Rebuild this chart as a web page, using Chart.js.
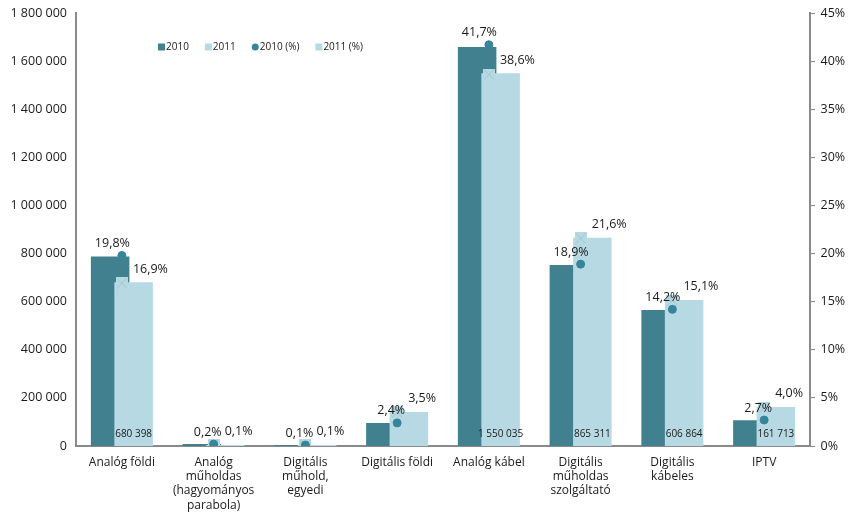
<!DOCTYPE html>
<html>
<head>
<meta charset="utf-8">
<script src="https://cdn.jsdelivr.net/npm/chart.js@4.4.1/dist/chart.umd.min.js"></script>
<style>
  body { margin: 0; background: #fff; }
  #wrap { width: 854px; height: 518px; position: relative; }
</style>
</head>
<body>
<div id="wrap"><canvas id="tvChart"></canvas></div>
<script>
// categories (x axis), multi-line labels
const categories = [
  ["Analóg földi"],
  ["Analóg", "műholdas", "(hagyományos", "parabola)"],
  ["Digitális", "műhold,", "egyedi"],
  ["Digitális földi"],
  ["Analóg kábel"],
  ["Digitális", "műholdas", "szolgáltató"],
  ["Digitális", "kábeles"],
  ["IPTV"]
];

// households (left axis)
const households2010 = [788000, 8000, 4000, 96000, 1659000, 752000, 565000, 107000];
const households2011 = [680398, 4000, 4000, 141000, 1550035, 865311, 606864, 161713];

// share in % (right axis)
const share2010 = [19.8, 0.2, 0.1, 2.4, 41.7, 18.9, 14.2, 2.7];
const share2011 = [16.9, 0.1, 0.1, 3.5, 38.6, 21.6, 15.1, 4.0];

// which 2011 values get a number written in the bar
const showValue2011 = [true, false, false, false, true, true, true, true];

const legendLabels = ["2010", "2011", "2010 (%)", "2011 (%)"];

const DARK = "#41818f";
const LIGHT = "#b7d9e3";
const DOT = "#36859a";
const AXIS = "#8a8a8a";
const FONT = "'Open Sans', 'Noto Sans', sans-serif";

const fmtNum = (v) => String(Math.round(v)).replace(/\B(?=(\d{3})+(?!\d))/g, " ");
const fmtPct = (v) => v.toFixed(1).replace(".", ",") + "%";

// square marker with an x across it, for the 2011 (%) series
function makeCrossSquare(size) {
  const c = document.createElement("canvas");
  c.width = size;
  c.height = size;
  const g = c.getContext("2d");
  g.fillStyle = LIGHT;
  g.fillRect(0, 0, size, size);
  g.strokeStyle = "#9fc8d4";
  g.lineWidth = 1;
  g.beginPath();
  g.moveTo(1, 1); g.lineTo(size - 1, size - 1);
  g.moveTo(size - 1, 1); g.lineTo(1, size - 1);
  g.stroke();
  return c;
}
const crossSquare = makeCrossSquare(12);

const labelPlugin = {
  id: "labels",
  // 2010 bars sit left (lower order) but must be painted under the 2011 bars
  beforeDatasetDraw(chart, args) {
    if (args.index === 0) return false;
    if (args.index === 1) chart.getDatasetMeta(0).controller.draw();
  },
  afterDatasetsDraw(chart) {
    const ctx = chart.ctx;
    const m2010 = chart.getDatasetMeta(2);
    const m2011 = chart.getDatasetMeta(3);
    const bars2011 = chart.getDatasetMeta(1);
    ctx.save();
    ctx.fillStyle = "#1a1a1a";
    ctx.font = "12.5px " + FONT;
    ctx.textBaseline = "middle";
    share2010.forEach((v, i) => {
      const p = m2010.data[i];
      ctx.textAlign = "right";
      ctx.fillText(fmtPct(v), p.x + 8, p.y - 12);
    });
    share2011.forEach((v, i) => {
      const p = m2011.data[i];
      ctx.textAlign = "left";
      ctx.fillText(fmtPct(v), p.x + 11, p.y - 14);
    });
    ctx.font = "10px " + FONT;
    ctx.textAlign = "center";
    households2011.forEach((v, i) => {
      if (!showValue2011[i]) return;
      const b = bars2011.data[i];
      ctx.fillText(fmtNum(v), b.x, chart.chartArea.bottom - 12);
    });
    ctx.restore();
  },
  afterDraw(chart) {
    // legend inside the plot, top left
    const ctx = chart.ctx;
    ctx.save();
    ctx.font = "10px " + FONT;
    ctx.textBaseline = "middle";
    ctx.textAlign = "left";
    const y = 47;
    let x = 158;
    legendLabels.forEach((t, i) => {
      if (i === 2) {
        ctx.fillStyle = DOT;
        ctx.beginPath();
        ctx.arc(x + 3.5, y, 3.5, 0, Math.PI * 2);
        ctx.fill();
      } else {
        ctx.fillStyle = i === 0 ? DARK : LIGHT;
        ctx.fillRect(x, y - 3.5, 7, 7);
      }
      ctx.fillStyle = "#1a1a1a";
      ctx.fillText(t, x + 8, y);
      x += 8 + ctx.measureText(t).width + 16;
    });
    ctx.restore();
  }
};

new Chart(document.getElementById("tvChart"), {
  type: "bar",
  data: {
    labels: categories,
    datasets: [
      {
        label: "2010",
        data: households2010,
        backgroundColor: DARK,
        yAxisID: "y",
        categoryPercentage: 0.512,
        barPercentage: 1.64,
        order: 2
      },
      {
        label: "2011",
        data: households2011,
        backgroundColor: LIGHT,
        yAxisID: "y",
        categoryPercentage: 0.512,
        barPercentage: 1.64,
        order: 3
      },
      {
        type: "line",
        label: "2010 (%)",
        data: share2010,
        yAxisID: "y1",
        showLine: false,
        pointStyle: "circle",
        pointRadius: 4,
        pointBackgroundColor: DOT,
        pointBorderColor: DOT,
        order: 0
      },
      {
        type: "line",
        label: "2011 (%)",
        data: share2011,
        yAxisID: "y1",
        showLine: false,
        pointStyle: crossSquare,
        pointRadius: 6,
        order: 1
      }
    ]
  },
  options: {
    responsive: true,
    maintainAspectRatio: false,
    animation: false,
    layout: { padding: { top: 0, left: 0, right: 0, bottom: 0 } },
    plugins: {
      legend: { display: false },
      tooltip: { enabled: false }
    },
    scales: {
      x: {
        grid: { display: false, drawTicks: false },
        border: { color: AXIS, width: 2 },
        ticks: {
          color: "#1a1a1a",
          font: { family: FONT, size: 12 },
          padding: 9,
          maxRotation: 0,
          autoSkip: false
        },
        afterFit: (s) => { s.height = 72; }
      },
      y: {
        position: "left",
        min: 0,
        max: 1800000,
        grid: { display: false, tickLength: 3.5 },
        border: { color: AXIS, width: 2 },
        ticks: {
          stepSize: 200000,
          color: "#1a1a1a",
          font: { family: FONT, size: 12.5 },
          padding: 5.5,
          callback: (v) => fmtNum(v)
        },
        afterFit: (s) => { s.width = 76; }
      },
      y1: {
        position: "right",
        min: 0,
        max: 45,
        grid: { drawOnChartArea: false, color: AXIS, tickLength: 5 },
        border: { color: AXIS, width: 2 },
        ticks: {
          stepSize: 5,
          color: "#1a1a1a",
          font: { family: FONT, size: 12.5 },
          padding: 5.5,
          callback: (v) => v + "%"
        },
        afterFit: (s) => { s.width = 44; }
      }
    }
  },
  plugins: [labelPlugin]
});
</script>
</body>
</html>
